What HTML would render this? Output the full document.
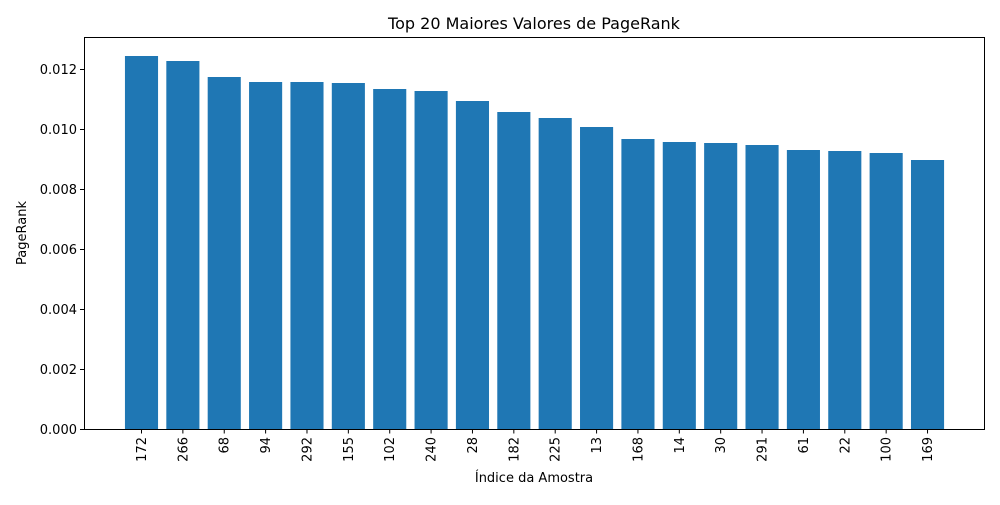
<!DOCTYPE html>
<html><head><meta charset="utf-8"><style>
body{margin:0;background:#fff;}
svg text{font-family:"DejaVu Sans","Liberation Sans",sans-serif;font-size:13px;fill:#000;}
</style></head><body>
<svg width="1000" height="500" xmlns="http://www.w3.org/2000/svg">
<rect width="1000" height="500" fill="#fff"/>
<g id="bars" fill="#1f77b4"></g>
<rect x="84.5" y="37.5" width="900" height="392" fill="none" stroke="#000" stroke-width="1"/>
<g id="yt"></g><g id="xt"></g>
<text x="534" y="29" text-anchor="middle" style="font-size:16px">Top 20 Maiores Valores de PageRank</text>
<text x="534" y="482" text-anchor="middle">Índice da Amostra</text>
<text transform="translate(26,233) rotate(-90)" text-anchor="middle">PageRank</text>
</svg>
<script>
var ns="http://www.w3.org/2000/svg";
var labels=["172","266","68","94","292","155","102","240","28","182","225","13","168","14","30","291","61","22","100","169"];
var tops=[56,61,77,82,82,83,89,91,101,112,118,127,139,142,143,145,150,151,153,160];
var b=document.getElementById("bars"),xt=document.getElementById("xt"),yt=document.getElementById("yt");
function el(t,a,p,txt){var e=document.createElementNS(ns,t);for(var k in a)e.setAttribute(k,a[k]);if(txt)e.textContent=txt;p.appendChild(e);return e;}
for(var i=0;i<20;i++){var cx=141.5+41.37*i;
el("rect",{x:cx-16.55,y:tops[i],width:33.1,height:429-tops[i]},b);
el("line",{x1:cx,x2:cx,y1:429.5,y2:433.5,stroke:"#000"},xt);
el("text",{transform:"translate("+(cx+4.5)+",437) rotate(-90)","text-anchor":"end"},xt,labels[i]);}
for(var j=0;j<=6;j++){var y=429.5-60*j;
el("line",{x1:80,x2:84.5,y1:y,y2:y,stroke:"#000"},yt);
el("text",{x:77,y:y+4.5,"text-anchor":"end"},yt,(0.002*j).toFixed(3));}
</script>
</body></html>
